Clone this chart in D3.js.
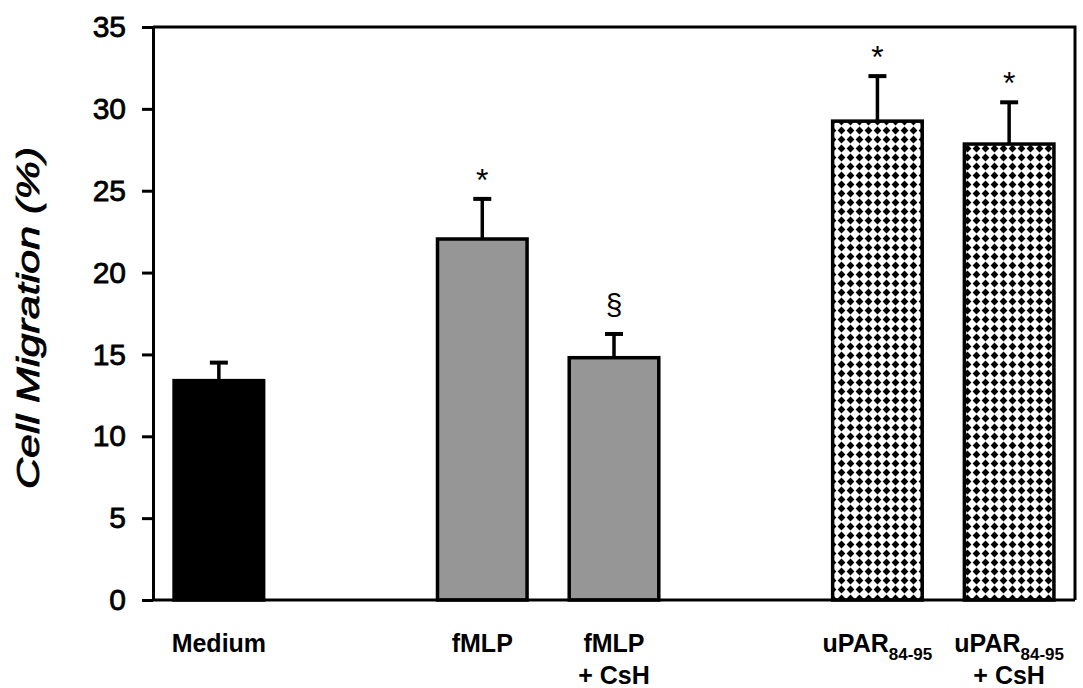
<!DOCTYPE html>
<html>
<head>
<meta charset="utf-8">
<script src="https://cdn.jsdelivr.net/npm/d3@7"></script>
<style>
  html, body { margin: 0; padding: 0; background: #fff; }
  svg { display: block; font-family: "Liberation Sans", Arial, sans-serif; }
</style>
</head>
<body>
<svg id="chart" width="1083" height="688"></svg>
<script>
// slots along the x axis; empty ids are spacer slots
const slots = ['medium', 'gap1', 'fmlp', 'fmlpCsh', 'gap2', 'upar', 'uparCsh'];
const barIds = ['medium', 'fmlp', 'fmlpCsh', 'upar', 'uparCsh'];
const values = [13.4, 22.05, 14.8, 29.25, 27.85];
const errors = [1.1, 2.45, 1.45, 2.75, 2.55];
const marks = ['', '*', '§', '*', '*'];
const fills = ['solid', 'grey', 'grey', 'check', 'check'];
const labelMain = ['Medium', 'fMLP', 'fMLP', 'uPAR', 'uPAR'];
const labelSub = ['', '', '', '84-95', '84-95'];
const labelLine2 = ['', '', '+ CsH', '', '+ CsH'];
const yTicks = [0, 5, 10, 15, 20, 25, 30, 35];

const svg = d3.select('#chart');
const L = 153, R = 1075, T = 27, B = 600;

const x = d3.scaleBand().domain(slots).range([L, R]).paddingInner(0.32).paddingOuter(0.16);
const y = d3.scaleLinear().domain([0, 35]).range([B, T]);

// checkered diamond pattern
const defs = svg.append('defs');
const pat = defs.append('pattern')
  .attr('id', 'check').attr('patternUnits', 'userSpaceOnUse')
  .attr('width', 9).attr('height', 9);
pat.append('rect').attr('width', 9).attr('height', 9).attr('fill', '#fff');
pat.append('path').attr('d', 'M4.5,0.6 L8.4,4.5 L4.5,8.4 L0.6,4.5 Z').attr('fill', '#000');

const fillOf = (f) => (f === 'solid' ? '#000' : f === 'grey' ? '#969696' : 'url(#check)');

// frame (top and right)
svg.append('path')
  .attr('d', `M${L},${T} H${R} V${B}`)
  .attr('fill', 'none').attr('stroke', '#000').attr('stroke-width', 3);

// bars
const bars = barIds.map((id, i) => ({ id, v: values[i], e: errors[i], m: marks[i], f: fills[i] }));
const g = svg.append('g');

g.selectAll('line.err').data(bars).join('line')
  .attr('class', 'err')
  .attr('x1', (d) => x(d.id) + x.bandwidth() / 2).attr('x2', (d) => x(d.id) + x.bandwidth() / 2)
  .attr('y1', (d) => y(d.v)).attr('y2', (d) => y(d.v + d.e))
  .attr('stroke', '#000').attr('stroke-width', 3.5);
g.selectAll('line.cap').data(bars).join('line')
  .attr('class', 'cap')
  .attr('x1', (d) => x(d.id) + x.bandwidth() / 2 - 9).attr('x2', (d) => x(d.id) + x.bandwidth() / 2 + 9)
  .attr('y1', (d) => y(d.v + d.e)).attr('y2', (d) => y(d.v + d.e))
  .attr('stroke', '#000').attr('stroke-width', 4);

g.selectAll('rect.bar').data(bars).join('rect')
  .attr('class', 'bar')
  .attr('x', (d) => x(d.id)).attr('width', x.bandwidth())
  .attr('y', (d) => y(d.v)).attr('height', (d) => y(0) - y(d.v))
  .attr('fill', (d) => fillOf(d.f))
  .attr('stroke', '#000').attr('stroke-width', 3.5);

// significance marks
g.selectAll('text.mark').data(bars.filter((d) => d.m)).join('text')
  .attr('class', 'mark')
  .attr('x', (d) => x(d.id) + x.bandwidth() / 2)
  .attr('y', (d) => y(d.v + d.e) - (d.m === '*' ? 8 : 19))
  .attr('text-anchor', 'middle')
  .attr('font-size', (d) => (d.m === '*' ? 32 : 30))
  .attr('fill', '#000')
  .text((d) => d.m);

// axes
const xAxis = svg.append('g').attr('transform', `translate(0,${B})`)
  .call(d3.axisBottom(x).tickSize(0).tickFormat(''));
xAxis.select('.domain').attr('stroke', '#000').attr('stroke-width', 3).attr('d', `M${L},0H${R}`);

const yAxis = svg.append('g').attr('transform', `translate(${L},0)`)
  .call(d3.axisLeft(y).tickValues(yTicks).tickSize(11).tickSizeOuter(0).tickPadding(16));
yAxis.attr('font-size', null).attr('font-family', null);
yAxis.select('.domain').attr('stroke', '#000').attr('stroke-width', 3);
yAxis.selectAll('.tick line').attr('stroke', '#000').attr('stroke-width', 3);
yAxis.selectAll('.tick text').attr('font-size', 30).attr('fill', '#000')
  .attr('stroke', '#000').attr('stroke-width', 0.8);

// category labels
const lab = svg.append('g').attr('font-weight', 'bold').attr('font-size', 25).attr('text-anchor', 'middle');
barIds.forEach((id, i) => {
  const cx = x(id) + x.bandwidth() / 2;
  const t = lab.append('text').attr('x', cx).attr('y', 652);
  t.append('tspan').text(labelMain[i]);
  if (labelSub[i]) t.append('tspan').attr('font-size', 17).attr('dy', 8).text(labelSub[i]);
  if (labelLine2[i]) lab.append('text').attr('x', cx).attr('y', 684).text(labelLine2[i]);
});

// y title
svg.append('text')
  .attr('transform', 'translate(39,318) rotate(-90)')
  .attr('text-anchor', 'middle')
  .attr('font-size', 32).attr('font-style', 'italic')
  .attr('stroke', '#000').attr('stroke-width', 0.8)
  .attr('textLength', 342).attr('lengthAdjust', 'spacingAndGlyphs')
  .text('Cell Migration (%)');
</script>
</body>
</html>
